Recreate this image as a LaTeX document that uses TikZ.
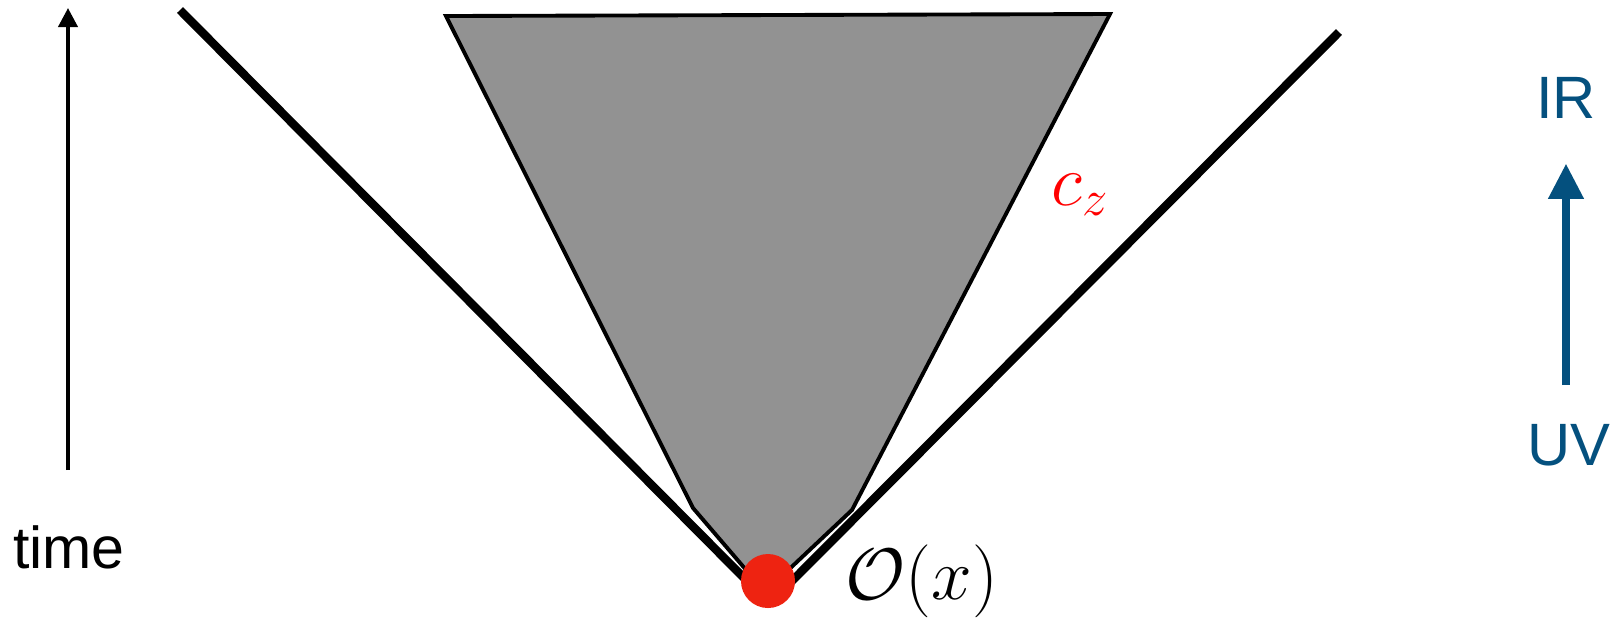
\documentclass[tikz,border=0pt]{standalone}
\usepackage{fontspec}
\setmainfont{Liberation Sans}
\usetikzlibrary{arrows.meta}

\definecolor{flowblue}{RGB}{4,80,126}
\definecolor{dotred}{RGB}{238,35,17}
\definecolor{wedgegray}{RGB}{146,146,146}

\begin{document}
\begin{tikzpicture}[x=0.01cm, y=-0.01cm,
  lightcone/.style={line width=2.4pt},
  sidelabel/.style={inner sep=0pt, anchor=base, font=\fontsize{17}{20}\selectfont},
  mathlabel/.style={inner sep=0pt, anchor=base west, font=\fontsize{20.8}{25}\selectfont}]

\useasboundingbox (0,0) rectangle (1611,620);

% Ось времени
\coordinate (t0) at (68,470);
\coordinate (t1) at (68,8);
\draw[line width=1.1pt, -{Triangle[width=0.19cm, length=0.19cm]}] (t0) -- (t1);
\node[sidelabel, font=\fontsize{16.8}{20}\selectfont] (time) at (69,568) {time};

% Серый клин
\fill[wedgegray, draw=black, line width=1.1pt, line join=miter]
  (446,16) -- (1110,14) -- (852,510) -- (765,592) -- (693,508) -- cycle;
\node[mathlabel, text=red] (cz) at (1051,205) {$c_z$};

% Световой конус
\coordinate (lc) at (180,10);
\coordinate (le) at (752,586);
\coordinate (rc) at (1339,32);
\coordinate (re) at (785,588);
\draw[lightcone] (lc) -- (le);
\draw[lightcone] (rc) -- (re);
\node[circle, fill=dotred, inner sep=0pt, minimum size=0.54cm] (o) at (768,581) {};
\node[mathlabel] (op) at (845,599) {$\mathcal{O}(x)$};

% UV -> IR
\node[sidelabel, text=flowblue] (ir) at (1566,118) {IR};
\node[sidelabel, text=flowblue] (uv) at (1569,465) {UV};
\draw[flowblue, line width=2pt, -{Triangle[width=0.34cm, length=0.35cm]},
  shorten <=0.38cm, shorten >=0.45cm] (uv.north -| ir.south) -- (ir.south);

\end{tikzpicture}
\end{document}
